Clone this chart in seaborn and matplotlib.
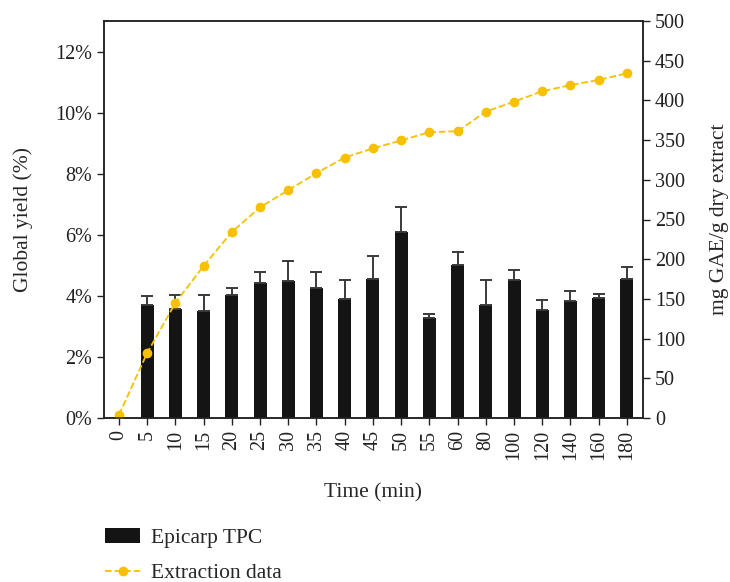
import numpy as np
import pandas as pd
import matplotlib
matplotlib.use("Agg")
import matplotlib.pyplot as plt
from matplotlib.patches import Patch
from matplotlib.lines import Line2D
from matplotlib.ticker import FuncFormatter
import seaborn as sns

times = ["0", "5", "10", "15", "20", "25", "30", "35", "40", "45", "50", "55",
         "60", "80", "100", "120", "140", "160", "180"]
yield_pct = [0.1, 2.13, 3.77, 4.98, 6.09, 6.9, 7.46, 8.02, 8.53, 8.83, 9.09,
             9.36, 9.39, 10.03, 10.36, 10.7, 10.9, 11.07, 11.29]
tpc_times = times[1:]
tpc = [142.3, 137.3, 134.8, 154.5, 169.6, 172.5, 163.3, 149.9, 174.6, 233.7,
       126.0, 192.2, 142.0, 173.4, 135.7, 147.0, 150.8, 174.6]
tpc_err = [11.3, 17.6, 20.0, 9.2, 14.2, 25.5, 20.5, 23.8, 29.3, 32.1,
           5.4, 16.7, 32.1, 12.9, 13.3, 13.3, 5.4, 15.4]

sns.set_theme(style="ticks")
plt.rcParams["font.family"] = ["Liberation Serif", "DejaVu Serif"]
plt.rcParams["font.size"] = 14.5

yellow = "#F7C000"
barc = "#141414"

df_line = pd.DataFrame({"Time": times, "Yield": yield_pct})
df_bar = pd.DataFrame({"Time": tpc_times, "TPC": tpc, "err": tpc_err})

fig = plt.figure(figsize=(7.3, 5.82), dpi=100)
ax = fig.add_axes([104 / 730, 1 - 418 / 582, (643 - 104) / 730, (418 - 21) / 582])
ax2 = ax.twinx()

sns.barplot(data=df_bar, x="Time", y="TPC", order=times, ax=ax2, color=barc,
            width=0.46, saturation=1, errorbar=None, edgecolor="none")
pos = [times.index(t) for t in tpc_times]
ax2.errorbar(pos, df_bar["TPC"], yerr=[np.zeros(len(tpc)), df_bar["err"]],
             fmt="none", ecolor="#3a3a3a", elinewidth=1.4, capsize=4, capthick=1.4)

sns.pointplot(data=df_line, x="Time", y="Yield", order=times, ax=ax, color=yellow,
              markers="o", linestyles="--", errorbar=None, markersize=6,
              linewidth=1.3)

ax.set_zorder(ax2.get_zorder() + 1)
ax.patch.set_visible(False)

ax.set_xlim(-0.53, 18.57)
ax.set_ylim(0, 13)
ax2.set_ylim(0, 500)
ax.set_yticks(np.arange(0, 13, 2))
ax.yaxis.set_major_formatter(FuncFormatter(lambda v, p: f"{v:.0f}%"))
ax2.set_yticks(np.arange(0, 501, 50))

ax.set_xlabel("Time (min)", fontsize=15.5, labelpad=17)
ax.set_ylabel("Global yield (%)", fontsize=15.5, labelpad=16)
ax2.set_ylabel("mg GAE/g dry extract", fontsize=15.5, labelpad=18)
ax2.set_xlabel("")

for a in (ax, ax2):
    a.tick_params(axis="both", direction="out", length=5, width=1, color="#222",
                  labelsize=14.5, labelcolor="#222")
    for s in a.spines.values():
        s.set_visible(True)
        s.set_color("#222")
        s.set_linewidth(1.1)
ax.tick_params(axis="x", rotation=90)

handles = [Patch(facecolor=barc, edgecolor="none"),
           Line2D([0], [0], color=yellow, linestyle="--", marker="o", markersize=6, linewidth=1.3)]
fig.legend(handles, ["Epicarp TPC", "Extraction data"], loc="upper left",
           bbox_to_anchor=(86 / 730, 1 - 509 / 582), frameon=False,
           handlelength=1.6, handletextpad=0.5, labelspacing=0.68, fontsize=15.5)

fig.savefig("out.png", dpi=100)
